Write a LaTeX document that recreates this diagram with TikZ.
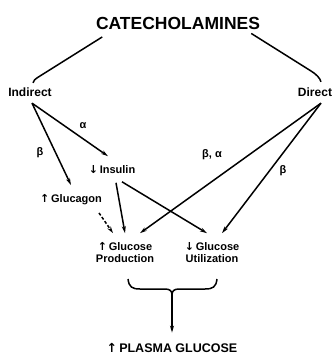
\documentclass[tikz,border=0pt]{standalone}
\usepackage{fontspec}
\setmainfont{Liberation Sans}
\newfontfamily\arr{DejaVu Sans}
\usetikzlibrary{arrows.meta}
\begin{document}
\begin{tikzpicture}[x=1pt,y=-1pt, line width=1.5pt,
  lbl/.style={font=\bfseries\fontsize{11}{12}\selectfont, inner sep=0pt, align=center},
  big/.style={font=\bfseries\fontsize{12}{12}\selectfont, inner sep=0pt},
  arw/.style={-{Stealth[length=7pt,width=4pt]}, line width=1.5pt},
  dsh/.style={arw, dash pattern=on 3pt off 2pt}]
\useasboundingbox (0,0) rectangle (335,358);

\node[font=\bfseries\fontsize{17.5}{18}\selectfont, inner sep=0pt] (cat) at (178,23) {CATECHOLAMINES};
\node[big] (ind) at (30,92) {Indirect};
\node[big] (dir) at (315,92) {Direct};
\node[lbl] (ins) at (112,170) {{\arr↓}\,Insulin};
\node[lbl] (glu) at (71,200) {{\arr↑}\,Glucagon};
\node[lbl] (gp) at (125,253) {{\arr↑}\,Glucose\\Production};
\node[lbl] (gu) at (212,253) {{\arr↓}\,Glucose\\Utilization};
\node[big, font=\bfseries\fontsize{12.5}{13}\selectfont] (pg) at (172,348) {{\arr↑}\,PLASMA GLUCOSE};

\node[lbl] (b1) at (40,153) {β};
\node[lbl] (a1) at (83,126) {α};
\node[lbl] (ba) at (212,155) {β, α};
\node[lbl] (b2) at (283,171) {β};

% catecholamines to indirect / direct
\draw ([xshift=7pt,yshift=-7pt]cat.south west) -- (40,76) .. controls (35,79) and (33,81) .. ([xshift=3pt,yshift=4pt]ind.north);
\draw ([xshift=-9.5pt,yshift=-3.5pt]cat.south east) -- (311,71) .. controls (316,74) and (320,78) .. ([xshift=6pt,yshift=5pt]dir.north);

% indirect
\coordinate (io) at ([xshift=2pt,yshift=-6pt]ind.south);
\draw[arw] (io) -- ([yshift=9pt]glu.north);
\draw[arw] (io) -- ([xshift=-4pt,yshift=9pt]ins.north);

% insulin / glucagon
\draw[arw] ([xshift=4pt,yshift=-8pt]ins.south) -- ([yshift=9pt]gp.north);
\draw[arw] ([xshift=10pt,yshift=-7pt]ins.south) -- ([xshift=-5pt,yshift=9pt]gu.north);
\draw[dsh] ([xshift=28pt,yshift=-7pt]glu.south) -- ([xshift=-12pt,yshift=9pt]gp.north);

% direct
\coordinate (do) at ([xshift=6pt,yshift=-6pt]dir.south);
\draw[arw] (do) -- ([xshift=15pt,yshift=9pt]gp.north);
\draw[arw] (do) -- ([xshift=10pt,yshift=9pt]gu.north);

% brace
\draw (128,279) .. controls (129,287) and (132,289) .. (140,289) -- (165,289) .. controls (170,289) and (172,291) .. (172,295);
\draw (217,279) .. controls (216,287) and (213,289) .. (205,289) -- (179,289) .. controls (174,289) and (172,291) .. (172,295);
\coordinate (bt) at (172,292);
\draw[arw] (bt) -- ([yshift=10pt]pg.north);
\end{tikzpicture}
\end{document}
